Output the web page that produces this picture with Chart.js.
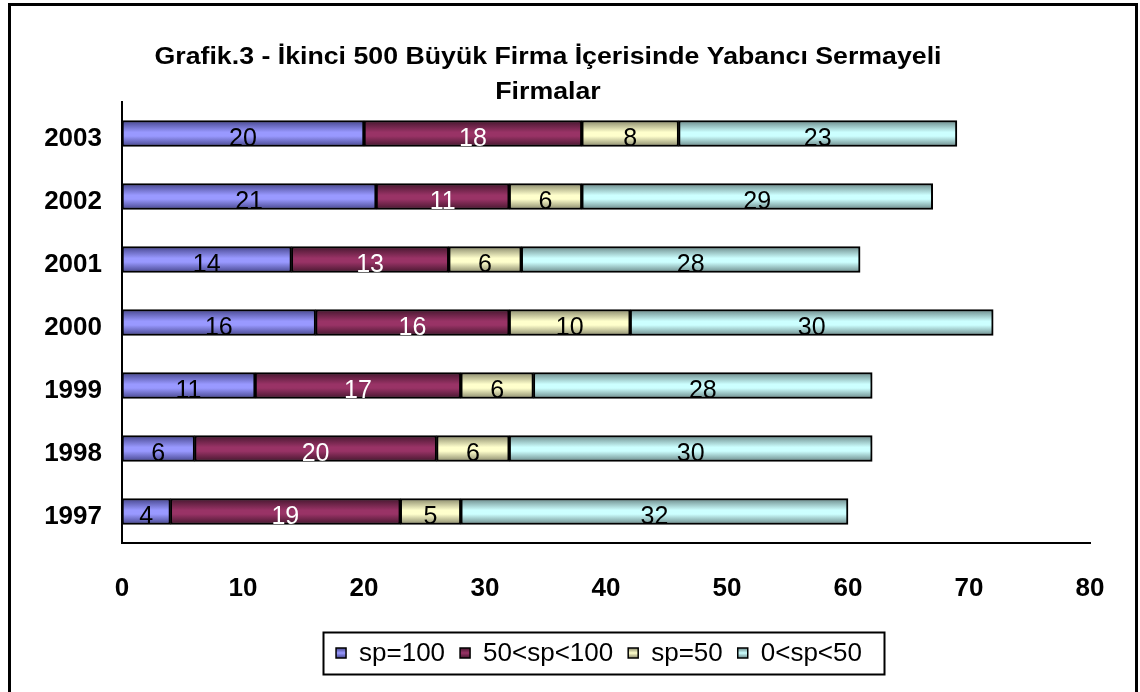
<!DOCTYPE html>
<html>
<head>
<meta charset="utf-8">
<script src="https://cdn.jsdelivr.net/npm/chart.js@4.4.1/dist/chart.umd.min.js"></script>
<style>
  html, body { margin: 0; padding: 0; background: #fff; }
  #wrap { width: 1140px; height: 692px; position: relative; }
</style>
</head>
<body>
<div id="wrap"><canvas id="chart" width="1140" height="692"></canvas></div>
<script>
const years = ['2003', '2002', '2001', '2000', '1999', '1998', '1997'];
const seriesNames = ['sp=100', '50<sp<100', 'sp=50', '0<sp<50'];
const sp100 = [20, 21, 14, 16, 11, 6, 4];
const sp50to100 = [18, 11, 13, 16, 17, 20, 19];
const sp50 = [8, 6, 6, 10, 6, 6, 5];
const sp0to50 = [23, 29, 28, 30, 28, 30, 32];
const xTicks = [0, 10, 20, 30, 40, 50, 60, 70, 80];
const titleLines = ['Grafik.3 - İkinci 500 Büyük Firma İçerisinde Yabancı Sermayeli', 'Firmalar'];

// light centre colour, dark edge colour, label colour
const palette = [
  { light: '#9999ff', dark: '#45458c', text: '#000' },
  { light: '#993366', dark: '#45172e', text: '#fff' },
  { light: '#ffffcc', dark: '#88886a', text: '#000' },
  { light: '#ccffff', dark: '#6a8888', text: '#000' }
];

const BAR = 26;
const FONT = '"Liberation Sans", Arial, sans-serif';

function barFill(i) {
  return function(ctx) {
    const chart = ctx.chart;
    const y = chart.scales && chart.scales.y;
    if (ctx.type !== 'data' || !y || !chart.chartArea) return palette[i].light;
    const cy = y.getPixelForValue(ctx.dataIndex);
    const g = chart.ctx.createLinearGradient(0, cy - BAR / 2, 0, cy + BAR / 2);
    g.addColorStop(0, palette[i].dark);
    g.addColorStop(0.45, palette[i].light);
    g.addColorStop(0.6, palette[i].light);
    g.addColorStop(1, palette[i].dark);
    return g;
  };
}

const dataSets = [sp100, sp50to100, sp50, sp0to50].map((d, i) => ({
  label: seriesNames[i],
  data: d,
  backgroundColor: barFill(i),
  borderColor: '#000',
  borderWidth: 2,
  borderSkipped: false,
  barThickness: BAR
}));

const frameAndText = {
  id: 'frameAndText',
  afterDatasetsDraw(chart) {
    const c = chart.ctx;
    // value labels
    c.save();
    c.font = '25px ' + FONT;
    c.textAlign = 'center';
    c.textBaseline = 'middle';
    chart.data.datasets.forEach((ds, i) => {
      chart.getDatasetMeta(i).data.forEach((bar, j) => {
        const cx = (bar.x + bar.base) / 2;
        c.fillStyle = palette[i].text;
        c.fillText(String(ds.data[j]), cx, bar.y + 6);
      });
    });
    c.restore();
  },
  afterDraw(chart) {
    const c = chart.ctx;
    c.save();
    // outer frame
    c.strokeStyle = '#000';
    c.lineWidth = 3;
    c.strokeRect(9.5, 4.5, 1127, 700);
    // title, fitted to the width of the original
    c.fillStyle = '#000';
    c.font = 'bold 23px ' + FONT;
    c.textAlign = 'center';
    c.textBaseline = 'middle';
    const sx = 787 / c.measureText(titleLines[0]).width;
    c.save();
    c.translate(548, 0);
    c.scale(sx, 1);
    c.fillText(titleLines[0], 0, 58);
    c.fillText(titleLines[1], 0, 93);
    c.restore();
    // legend
    c.font = '26px ' + FONT;
    c.textAlign = 'left';
    const sw = 10, gap = 13, between = 15;
    const widths = seriesNames.map(n => c.measureText(n).width);
    const total = widths.reduce((a, w) => a + sw + gap + w, 0) + between * (seriesNames.length - 1);
    const boxL = 323, boxR = 884, boxT = 632, boxB = 674;
    c.lineWidth = 2;
    c.strokeRect(boxL + 0.5, boxT + 0.5, boxR - boxL, boxB - boxT);
    let x = 599 - total / 2;
    const cy = (boxT + boxB) / 2;
    seriesNames.forEach((n, i) => {
      const g = c.createLinearGradient(0, cy - sw / 2, 0, cy + sw / 2);
      g.addColorStop(0, palette[i].dark);
      g.addColorStop(0.5, palette[i].light);
      g.addColorStop(1, palette[i].dark);
      c.fillStyle = g;
      c.fillRect(x, cy - sw / 2, sw, sw);
      c.lineWidth = 1.5;
      c.strokeStyle = '#000';
      c.strokeRect(x, cy - sw / 2, sw, sw);
      c.fillStyle = '#000';
      c.fillText(n, x + sw + gap, cy + 1);
      x += sw + gap + widths[i] + between;
    });
    c.restore();
  }
};

new Chart(document.getElementById('chart'), {
  type: 'bar',
  data: { labels: years, datasets: dataSets },
  options: {
    indexAxis: 'y',
    responsive: false,
    animation: false,
    layout: { padding: { top: 102, right: 50, left: 0, bottom: 0 } },
    plugins: { legend: { display: false }, title: { display: false }, tooltip: { enabled: false } },
    scales: {
      x: {
        stacked: true,
        min: 0, max: 80,
        afterBuildTicks: s => { s.ticks = xTicks.map(v => ({ value: v })); },
        afterFit: s => { s.height = 149; },
        border: { display: true, color: '#000', width: 2 },
        grid: { display: false, drawOnChartArea: false, drawTicks: true, tickLength: 8, tickColor: '#000', tickWidth: 2 },
        ticks: { color: '#000', padding: 22, maxRotation: 0, font: { size: 26, weight: 'bold', family: FONT } }
      },
      y: {
        stacked: true,
        afterFit: s => { s.width = 122; },
        border: { display: true, color: '#000', width: 2 },
        grid: { display: false, drawTicks: false },
        ticks: { color: '#000', padding: 20, labelOffset: 5, font: { size: 26, weight: 'bold', family: FONT } }
      }
    }
  },
  plugins: [frameAndText]
});
</script>
</body>
</html>
